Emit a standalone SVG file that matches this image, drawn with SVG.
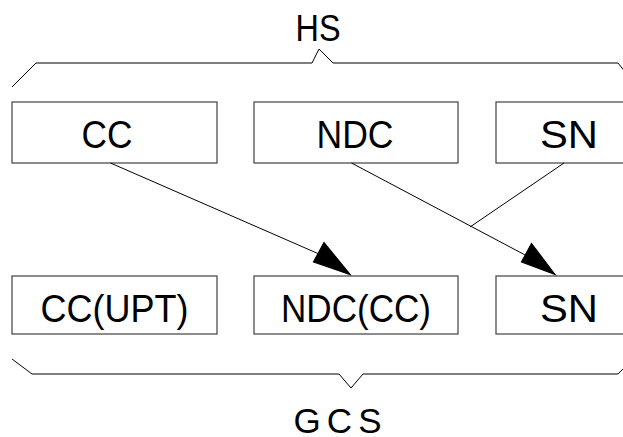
<svg xmlns="http://www.w3.org/2000/svg" width="623" height="437" viewBox="0 0 623 437">
<style>
.box{fill:#fff;stroke:#404040;stroke-width:1.2}
.lbl{font-family:"Liberation Sans",Arial,sans-serif;font-size:38px;fill:#000;text-anchor:middle}
.brk{fill:none;stroke:#000;stroke-width:1}
.con{fill:none;stroke:#000;stroke-width:1}
.head{fill:#000;stroke:#000;stroke-width:1.2;stroke-linejoin:miter}
</style>
<g id="hs-bracket">
<path class="brk" d="M12,87 L36,63 L312,63 L319,49 L333,63 L618,63 L626,73"/>
<text class="lbl" x="318" y="41" style="font-size:37px" textLength="45" lengthAdjust="spacingAndGlyphs">HS</text>
</g>
<g id="gcs-bracket">
<path class="brk" d="M12,359 L32,374 L339,374 L351,388 L363,374 L618,374 L626,366"/>
<text class="lbl" x="337.5" y="432.5" style="font-size:35px" textLength="88" lengthAdjust="spacing">GCS</text>
</g>
<g id="cc">
<rect class="box" x="12" y="102" width="205" height="61"/>
<text class="lbl" x="107" y="148" textLength="51" lengthAdjust="spacingAndGlyphs">CC</text>
</g>
<g id="ndc">
<rect class="box" x="254" y="102" width="204" height="61"/>
<text class="lbl" x="355" y="148" textLength="77" lengthAdjust="spacingAndGlyphs">NDC</text>
</g>
<g id="sn">
<rect class="box" x="496" y="102" width="140" height="61"/>
<text class="lbl" x="569" y="148" textLength="58" lengthAdjust="spacingAndGlyphs">SN</text>
</g>
<g id="cc-upt">
<rect class="box" x="12" y="276" width="205" height="58"/>
<text class="lbl" x="114.5" y="321.5" textLength="148" lengthAdjust="spacingAndGlyphs">CC(UPT)</text>
</g>
<g id="ndc-cc">
<rect class="box" x="254" y="276" width="204" height="58"/>
<text class="lbl" x="356" y="321.5" textLength="150" lengthAdjust="spacingAndGlyphs">NDC(CC)</text>
</g>
<g id="sn2">
<rect class="box" x="496" y="276" width="140" height="58"/>
<text class="lbl" x="569" y="321.5" textLength="58" lengthAdjust="spacingAndGlyphs">SN</text>
</g>
<g id="connectors">
<line class="con" x1="110.5" y1="163" x2="319" y2="254"/>
<polygon class="head" points="350,274.5 324,242.5 313.5,262"/>
<line class="con" x1="351.5" y1="163" x2="527" y2="256"/>
<polygon class="head" points="555,274.5 531.5,243.5 521.5,262"/>
<line class="con" x1="564" y1="163" x2="470" y2="227"/>
</g>
</svg>
